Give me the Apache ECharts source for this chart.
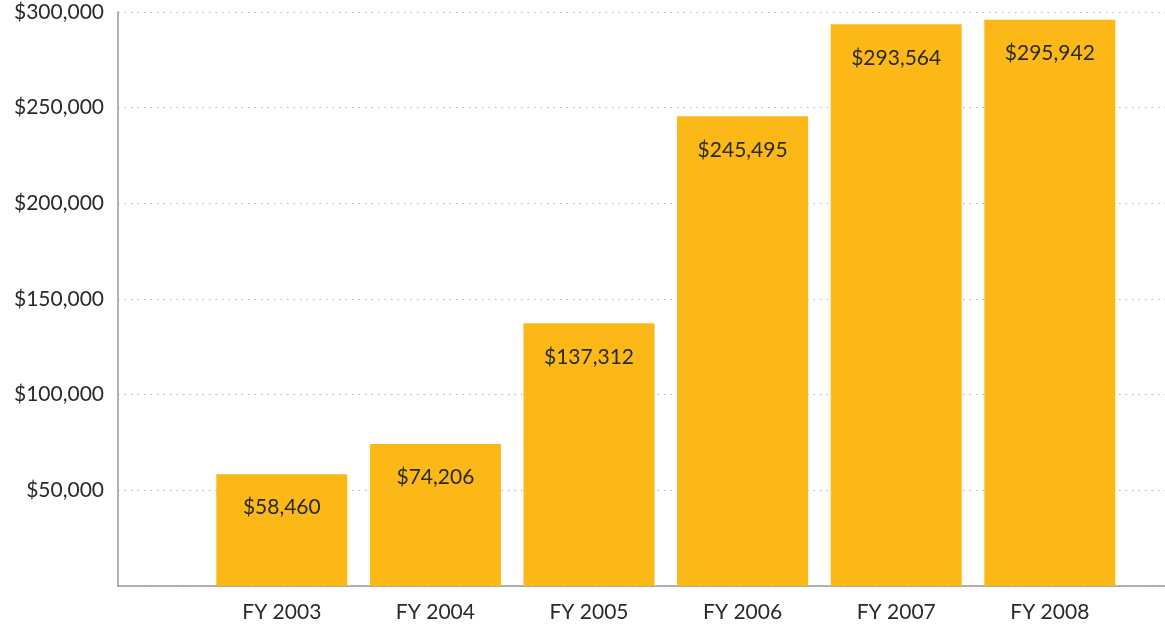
<!DOCTYPE html>
<html>
<head>
<meta charset="utf-8">
<script src="https://cdn.jsdelivr.net/npm/echarts@6/dist/echarts.min.js"></script>
<style>
  html, body { margin: 0; padding: 0; background: #fff; }
  #chart { width: 1165px; height: 627px; }
</style>
</head>
<body>
<div id="chart"></div>
<script>
const years = ['FY 2003', 'FY 2004', 'FY 2005', 'FY 2006', 'FY 2007', 'FY 2008'];
const amounts = [58460, 74206, 137312, 245495, 293564, 295942];
const yTicks = [0, 50000, 100000, 150000, 200000, 250000, 300000];

const fmt = v => '$' + v.toLocaleString('en-US');
const font = 'Lato, "Open Sans", sans-serif';

const chart = echarts.init(document.getElementById('chart'));
chart.setOption({
  animation: false,
  grid: [
    { left: 118, right: 0, top: 12, bottom: 41 },
    { left: 205, width: 921.6, top: 12, bottom: 41 }
  ],
  xAxis: [
    {
      gridIndex: 0, type: 'value', min: 0, max: 1,
      axisLine: { show: true, lineStyle: { color: '#9a9a9a', width: 1.5 } },
      axisTick: { show: false }, axisLabel: { show: false }, splitLine: { show: false }
    },
    {
      gridIndex: 1, type: 'category', data: years,
      axisLine: { show: false }, axisTick: { show: false },
      axisLabel: { color: '#2a2a2a', fontSize: 21, fontFamily: font, margin: 16 }
    }
  ],
  yAxis: [
    {
      gridIndex: 0, type: 'value', min: yTicks[0], max: yTicks[yTicks.length - 1], interval: 50000,
      axisLine: { show: true, lineStyle: { color: '#9a9a9a', width: 1.5 } },
      axisTick: { show: false },
      splitLine: { show: true, lineStyle: { color: '#b0b0b0', type: [1.5, 5], width: 1 } },
      axisLabel: {
        color: '#2a2a2a', fontSize: 21, fontFamily: font, margin: 14,
        formatter: v => (v === 0 ? '' : fmt(v))
      }
    },
    {
      gridIndex: 1, type: 'value', min: yTicks[0], max: yTicks[yTicks.length - 1],
      show: false, splitLine: { show: false }
    }
  ],
  series: [{
    type: 'bar',
    xAxisIndex: 1, yAxisIndex: 1,
    data: amounts,
    barWidth: 131,
    itemStyle: { color: '#FBB817' },
    label: {
      show: true, position: 'insideTop', distance: 23,
      color: '#2a2a2a', fontSize: 21, fontFamily: font,
      formatter: p => fmt(p.value)
    }
  }]
});
</script>
</body>
</html>
